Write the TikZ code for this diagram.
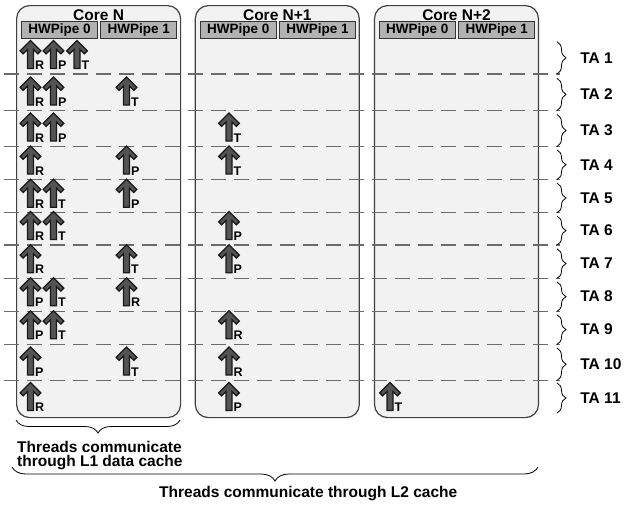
\documentclass[tikz,border=0pt]{standalone}
\usepackage{fontspec}
\setmainfont{Liberation Sans}[BoldFont=Liberation Sans Bold]
\usetikzlibrary{positioning, decorations.pathreplacing}

\tikzset{
  core/.style={draw=black!75, line width=1.2pt, fill=black!5,
               rounded corners=13pt, minimum width=164pt,
               minimum height=412pt, inner sep=0pt},
  title/.style={font=\fontsize{15.5}{15}\selectfont\bfseries, inner sep=0pt},
  pipe/.style={draw=black!80, line width=0.9pt, fill=black!30,
               minimum width=76pt, minimum height=17.5pt, inner sep=0pt,
               font=\fontsize{13.5}{13}\selectfont\bfseries},
  sep/.style={draw=black!58, line width=1.4pt, dash pattern=on 15pt off 8pt},
  thread/.style={draw=black!90, fill=black!67, line width=1.3pt,
                 line join=miter},
  ltr/.style={font=\fontsize{12.5}{12}\selectfont\bfseries, inner sep=0pt},
  tabrace/.style={decorate, decoration={brace, amplitude=9pt},
                  line width=0.8pt},
  talbl/.style={font=\fontsize{15.5}{15}\selectfont\bfseries, inner sep=0pt},
  note/.style={font=\fontsize{15.5}{14.5}\selectfont\bfseries, inner sep=0pt}
}

\newcommand\thrd[4]{%
  \draw[thread, shift={(#2,#3)}] (0,-28) -- (10.3,-17.7) -- (7.3,-14.7)
    -- (3,-19) -- (3,0) -- (-3,0) -- (-3,-19) -- (-7.3,-14.7)
    -- (-10.3,-17.7) -- cycle;
  \node[ltr, anchor=base west] (#1) at (#2+4.5,#3+1) {#4};
}

\begin{document}
\begin{tikzpicture}[x=1pt, y=-1pt]
  \useasboundingbox (0,0) rectangle (644,506);

  \node[core, anchor=north west] (cN) at (16,5) {};
  \node[core, right=13.5pt of cN] (cN1) {};
  \node[core, right=14pt of cN1] (cN2) {};

  \node[title, below=4.5pt of cN.north] (tN) {Core N};
  \node[title, below=4.5pt of cN1.north] (tN1) {Core N+1};
  \node[title, below=4.5pt of cN2.north] (tN2) {Core N+2};

  \node[pipe, below right=15.7pt and 5pt of cN.north west] (pN0) {HWPipe 0};
  \node[pipe, right=2.5pt of pN0] (pN1) {HWPipe 1};
  \node[pipe, below right=15.7pt and 5pt of cN1.north west] (pNa0) {HWPipe 0};
  \node[pipe, right=2.5pt of pNa0] (pNa1) {HWPipe 1};
  \node[pipe, below right=15.7pt and 5pt of cN2.north west] (pNb0) {HWPipe 0};
  \node[pipe, right=2.5pt of pNb0] (pNb1) {HWPipe 1};

  \foreach \y in {74,110.5,146.5,179.5,212.7,245,278.3,311.3,344.3,380.5}
    \draw[sep] (4,\y) -- (560,\y);

  \foreach \t/\b [count=\i] in {41.7/74, 78.3/110.5, 114.5/146.5,
      150/179.5, 183.2/212.7, 216.2/245, 248.8/278.3, 282/311.3,
      314.8/344.3, 348/380.5, 383/413}
    \draw[tabrace] (557,\t) -- (557,\b)
      node[talbl, midway, right=23pt] (ta\i) {TA \i};

  \thrd{a1}{30.5}{68.5}{R}
  \thrd{b1}{53.5}{68.5}{P}
  \thrd{c1}{77}{68.5}{T}

  \thrd{a2}{30.5}{105}{R}
  \thrd{b2}{53.5}{105}{P}
  \thrd{d2}{126.5}{105}{T}

  \thrd{a3}{30.5}{141}{R}
  \thrd{b3}{53.5}{141}{P}
  \thrd{e3}{229}{141}{T}

  \thrd{a4}{30.5}{174}{R}
  \thrd{d4}{126.5}{174}{P}
  \thrd{e4}{229}{174}{T}

  \thrd{a5}{30.5}{207.2}{R}
  \thrd{b5}{53.5}{207.2}{T}
  \thrd{d5}{126.5}{207.2}{P}

  \thrd{a6}{30.5}{239.5}{R}
  \thrd{b6}{53.5}{239.5}{T}
  \thrd{e6}{229}{239.5}{P}

  \thrd{a7}{30.5}{272.8}{R}
  \thrd{d7}{126.5}{272.8}{T}
  \thrd{e7}{229}{272.8}{P}

  \thrd{a8}{30.5}{305.8}{P}
  \thrd{b8}{53.5}{305.8}{T}
  \thrd{d8}{126.5}{305.8}{R}

  \thrd{a9}{30.5}{338.8}{P}
  \thrd{b9}{53.5}{338.8}{T}
  \thrd{e9}{229}{338.8}{R}

  \thrd{a10}{30.5}{375}{P}
  \thrd{d10}{126.5}{375}{T}
  \thrd{e10}{229}{375}{R}

  \thrd{a11}{30.5}{410.5}{R}
  \thrd{e11}{229}{410.5}{P}
  \thrd{f11}{390}{410.5}{T}

  \draw[tabrace, decoration={mirror, amplitude=13pt}] (16,420) -- (180,420);
  \node[note, anchor=north west, align=left] (l1) at (17,441)
    {Threads communicate\\through L1 data cache};

  \draw[tabrace, decoration={mirror, amplitude=14pt}] (12,467) -- (538,467);
  \node[note, anchor=base west] (l2) at (159,497)
    {Threads communicate through L2 cache};
\end{tikzpicture}
\end{document}
